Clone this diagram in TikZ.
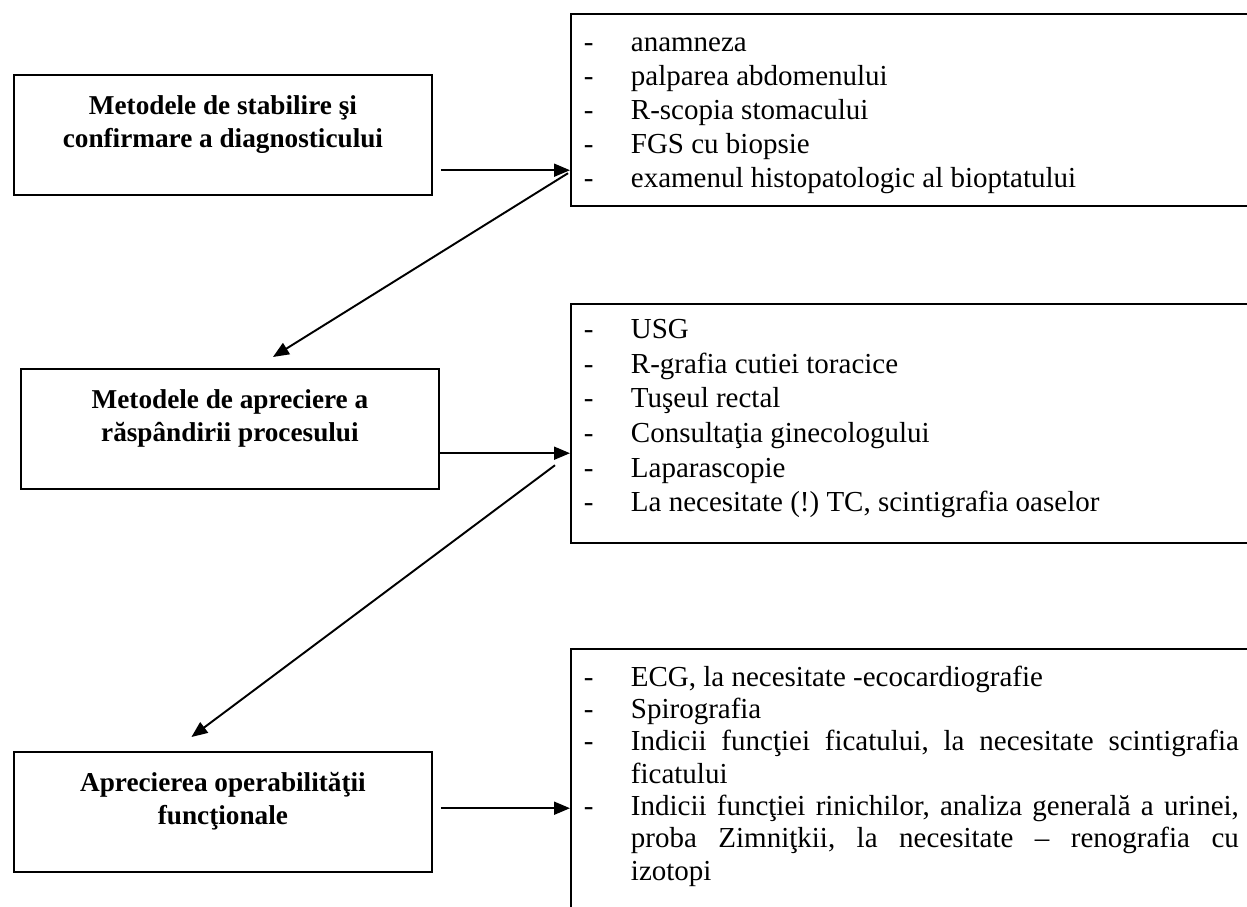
\documentclass[tikz,border=0pt]{standalone}
\usepackage{fontspec}
\setmainfont{Liberation Serif}
\usetikzlibrary{arrows.meta,calc}
\frenchspacing

\tikzset{
    framebox/.style={draw, line width=1.1pt, inner sep=0pt, anchor=north west},
    arrow/.style={line width=1.1pt, -{Triangle[length=0.32cm,width=0.26cm]}}
}
\newcommand{\titletext}[1]{\parbox[c][2.41cm][t]{8.36cm}{\centering
    \fontsize{15.5}{18.7}\selectfont\bfseries\vspace*{0.34cm}\strut#1}}
\newcommand{\listtext}[4]{\parbox[c][#1][t]{14.4cm}{\fontsize{16.5}{#2}\selectfont
    \leftskip=0.26cm\rightskip=1.04cm\vspace*{#3}#4}}
\newcommand{\itm}[1]{\par\noindent\hangindent=0.94cm\hangafter=1\makebox[0.94cm][l]{-}\strut#1\strut}

\begin{document}
\begin{tikzpicture}[x=0.02cm, y=-0.02cm]
                \useasboundingbox (0,0) rectangle (1247,906);
                \clip (0,0) rectangle (1247,906);
                % left boxes
                \node[framebox] (metode) at (13,74) {\titletext{Metodele de stabilire şi\\ confirmare a diagnosticului}};
                \node[framebox] (raspandire) at (20,368) {\titletext{Metodele de apreciere a\\ răspândirii procesului}};
                \node[framebox] (operabil) at (13,751) {\titletext{Aprecierea operabilităţii\\ funcţionale}};
                % right boxes
                \node[framebox] (diag) at (570,13) {\listtext{3.84cm}{19.3}{0.28cm}{%
                    \itm{anamneza}
                    \itm{palparea abdomenului}
                    \itm{R-scopia stomacului}
                    \itm{FGS cu biopsie}
                    \itm{examenul histopatologic al bioptatului}}};
                \node[framebox] (stad) at (570,303) {\listtext{4.78cm}{19.7}{0.21cm}{%
                    \itm{USG}
                    \itm{R-grafia cutiei toracice}
                    \itm{Tuşeul rectal}
                    \itm{Consultaţia ginecologului}
                    \itm{Laparascopie}
                    \itm{La necesitate (!) TC, scintigrafia oaselor}}};
                \node[framebox] (func) at (570,648) {\listtext{6cm}{18.4}{0.29cm}{%
                    \itm{ECG, la necesitate -ecocardiografie}
                    \itm{Spirografia}
                    \itm{Indicii funcţiei ficatului, la necesitate scintigrafia\linebreak ficatului}
                    \itm{Indicii funcţiei rinichilor, analiza generală a urinei,\linebreak proba Zimniţkii, la necesitate – renografia cu\linebreak izotopi}}};
                % arrows
                \coordinate (a1) at ($(metode.east)+(8,35)$);
                \coordinate (a2) at ($(raspandire.east)+(0,24)$);
                \coordinate (a3) at ($(operabil.east)+(8,-4)$);
                \draw[arrow] (a1) -- (a1 -| diag.west);
                \draw[arrow] (a2) -- (a2 -| stad.west);
                \draw[arrow] (a3) -- (a3 -| func.west);
                \draw[arrow] ($(a1 -| diag.west)+(-2,3)$) -- ($(raspandire.north)+(43,-11)$);
                \draw[arrow] ($(a2 -| stad.west)+(-15,12)$) -- ($(operabil.north)+(-31.5,-14)$);
            \end{tikzpicture}
\end{document}
